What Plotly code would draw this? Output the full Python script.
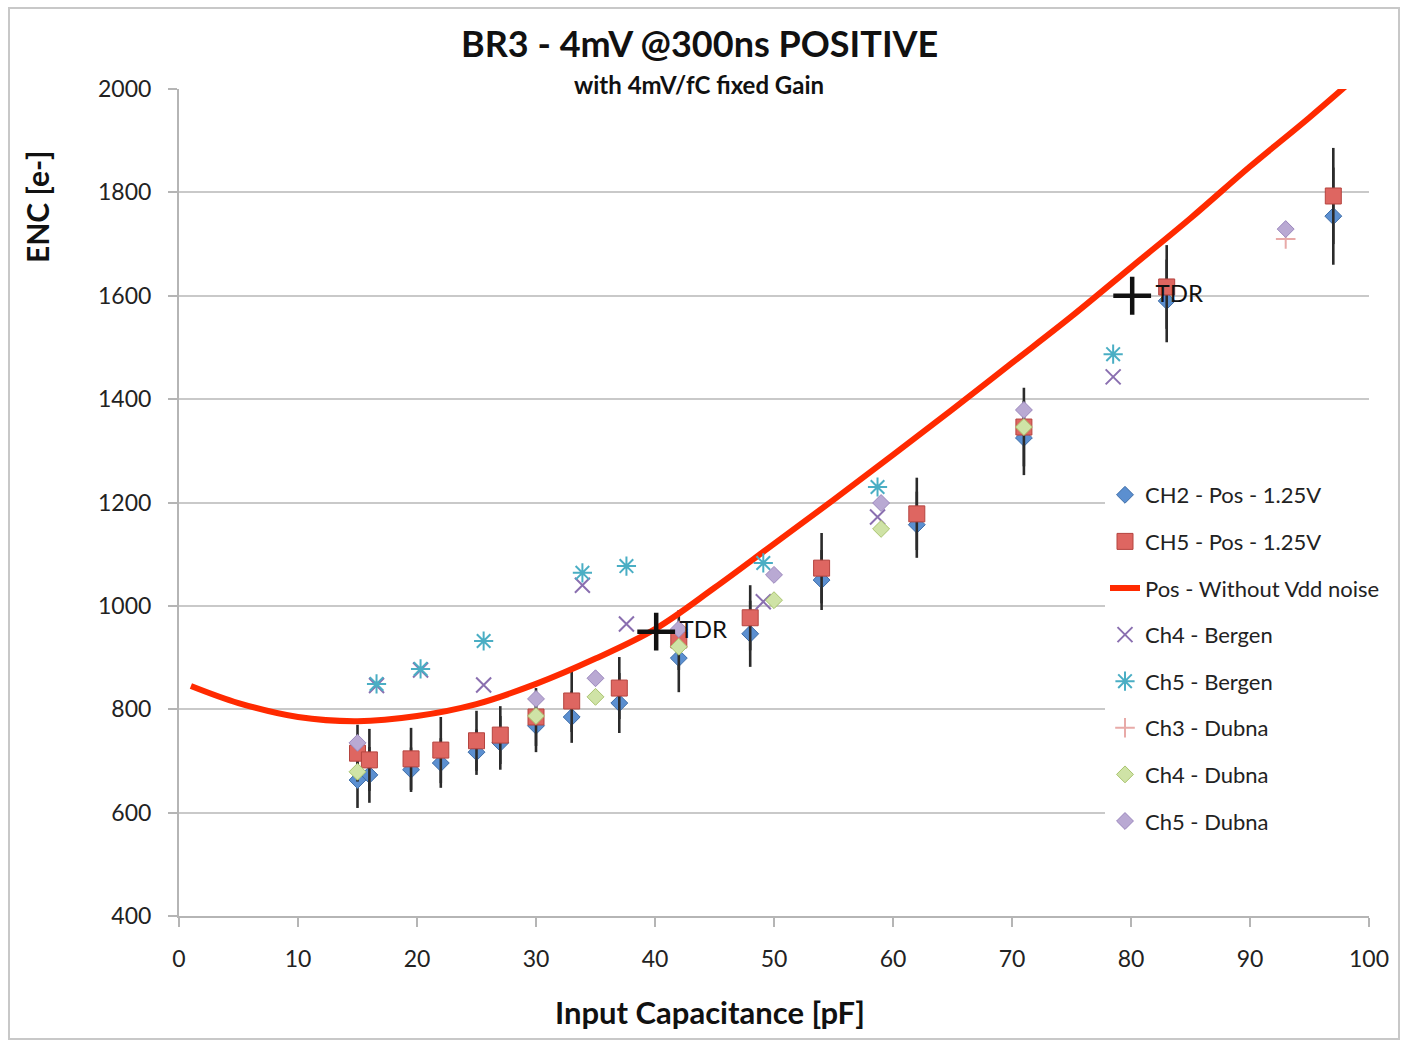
import plotly.graph_objects as go

# --- data -----------------------------------------------------------------
cap_pos = [15, 16, 19.5, 22, 25, 27, 30, 33, 37, 42, 48, 54, 62, 71, 83, 97]
enc_ch2 = [663, 673, 683, 696, 717, 735, 768, 785, 812, 899, 946, 1050, 1157, 1325, 1590, 1754]
err_ch2 = [54, 54, 43, 48, 44, 52, 51, 50, 58, 66, 64, 58, 64, 72, 80, 94]
enc_ch5 = [715, 702, 704, 721, 739, 750, 785, 816, 841, 934, 977, 1073, 1178, 1346, 1617, 1793]
err_ch5 = [55, 60, 60, 64, 58, 56, 56, 60, 60, 58, 63, 68, 70, 76, 81, 93]

cap_model = [1, 5, 10, 15, 20, 25, 30, 35, 40, 45, 50, 55, 60, 65, 70, 75, 80, 85, 90, 95, 100]
enc_model = [845, 812, 785, 777, 787, 810, 849, 898, 955, 1035, 1120, 1205, 1292, 1380, 1470, 1560,
             1655, 1750, 1850, 1945, 2045]

cap_bergen = [16.6, 20.3, 25.6, 33.9, 37.6, 49.1, 58.7, 78.5]
enc_ch4_bergen = [846, 876, 847, 1040, 965, 1008, 1172, 1443]
enc_ch5_bergen = [849, 878, 932, 1064, 1077, 1083, 1230, 1487]

cap_ch3_dubna = [93]
enc_ch3_dubna = [1710]

cap_dubna = [15, 30, 35, 42, 50, 59, 71, 93]
enc_ch4_dubna = [679, 787, 824, 921, 1011, 1149, 1346]
enc_ch5_dubna = [735, 820, 860, 955, 1060, 1199, 1379, 1729]

cap_tdr = [40.1, 80.1]
enc_tdr = [950, 1600]
tdr_labels = [" TDR", " TDR"]

FONT = "Lato"
GRID = "#c9c9c9"

# plot-area geometry in pixels, used to place the titles in paper units
PL, PR, PT, PB = 179, 1369, 89, 916
PW, PH = PR - PL, PB - PT


def px_x(p):
    return (p - PL) / PW


def px_y(p):
    return (PB - p) / PH


fig = go.Figure()

err_style = dict(type="data", symmetric=True, color="#2b2b2b", thickness=2.6, width=0)

fig.add_trace(go.Scatter(
    x=cap_pos, y=enc_ch2, mode="markers", name="CH2 - Pos - 1.25V", legendgroup="a",
    marker=dict(symbol="diamond", size=13, color="#5b8fd0", line=dict(color="#3f6ea8", width=1)),
    error_y=dict(array=err_ch2, **err_style),
))
fig.add_trace(go.Scatter(
    x=cap_pos, y=enc_ch5, mode="markers", name="CH5 - Pos - 1.25V", legendgroup="b",
    marker=dict(symbol="square", size=16, color="#de6661", line=dict(color="#b5443f", width=1)),
    error_y=dict(array=err_ch5, **err_style),
))
fig.add_trace(go.Scatter(
    x=cap_model, y=enc_model, mode="lines", name="Pos - Without Vdd noise", legendgroup="c",
    line=dict(color="#ff2a00", width=6, shape="spline", smoothing=1.0),
))
fig.add_trace(go.Scatter(
    x=cap_bergen, y=enc_ch4_bergen, mode="markers", name="Ch4 - Bergen", legendgroup="d",
    marker=dict(symbol="x-thin-open", size=15, color="#8a6fb0", line=dict(color="#8a6fb0", width=2)),
))
fig.add_trace(go.Scatter(
    x=cap_bergen, y=enc_ch5_bergen, mode="markers", name="Ch5 - Bergen", legendgroup="e",
    marker=dict(symbol="asterisk-open", size=16, color="#4aaec4", line=dict(color="#4aaec4", width=2)),
))
fig.add_trace(go.Scatter(
    x=cap_ch3_dubna, y=enc_ch3_dubna, mode="markers", name="Ch3 - Dubna", legendgroup="f",
    marker=dict(symbol="cross-thin-open", size=14, color="#e8aaa8", line=dict(color="#e8aaa8", width=2)),
))
fig.add_trace(go.Scatter(
    x=cap_dubna[:len(enc_ch4_dubna)], y=enc_ch4_dubna, mode="markers", name="Ch4 - Dubna", legendgroup="g",
    marker=dict(symbol="diamond", size=13, color="#cfe3a6", line=dict(color="#a9c46e", width=1)),
))
fig.add_trace(go.Scatter(
    x=cap_dubna, y=enc_ch5_dubna, mode="markers", name="Ch5 - Dubna", legendgroup="h",
    marker=dict(symbol="diamond", size=13, color="#b9a9d3", line=dict(color="#9b87bd", width=1)),
))
fig.add_trace(go.Scatter(
    x=cap_tdr, y=enc_tdr, mode="markers+text", text=tdr_labels, textposition="middle right",
    textfont=dict(family=FONT, size=24, color="#111"), showlegend=False,
    marker=dict(symbol="cross-thin-open", size=27, color="#111", line=dict(color="#111", width=4.5)),
))

fig.update_layout(
    width=1402, height=1044,
    paper_bgcolor="white", plot_bgcolor="white",
    margin=dict(l=PL, r=1402 - PR, t=PT, b=1044 - PB),
    font=dict(family=FONT, size=20, color="#222"),
    showlegend=True,
    legend=dict(
        x=px_x(1105), y=px_y(474), xanchor="left", yanchor="top",
        bgcolor="white", borderwidth=0,
        font=dict(family=FONT, size=22, color="#222"),
        tracegroupgap=15, itemwidth=30,
    ),
    xaxis=dict(
        range=[0, 100], tickmode="linear", tick0=0, dtick=10,
        showgrid=False, zeroline=False,
        showline=True, linecolor="#b5b5b5", linewidth=2,
        ticks="outside", ticklen=9, tickcolor="#b5b5b5", tickwidth=2,
        ticklabelstandoff=12,
        tickfont=dict(family=FONT, size=23, color="#222"),
    ),
    yaxis=dict(
        range=[400, 2000], tickmode="linear", tick0=400, dtick=200,
        showgrid=True, gridcolor=GRID, gridwidth=2, zeroline=False,
        showline=True, linecolor="#b5b5b5", linewidth=2,
        ticks="outside", ticklen=9, tickcolor="#b5b5b5", tickwidth=2,
        ticklabelstandoff=12,
        tickfont=dict(family=FONT, size=23, color="#222"),
    ),
    shapes=[
        # white band behind the title block
        dict(type="rect", xref="paper", yref="paper", layer="above",
             x0=px_x(452), x1=px_x(948), y0=px_y(101), y1=px_y(75),
             fillcolor="white", line=dict(width=0)),
        # outer chart frame
        dict(type="rect", xref="paper", yref="paper", layer="below",
             x0=px_x(9), x1=px_x(1399), y0=px_y(1039), y1=px_y(8),
             fillcolor="rgba(0,0,0,0)", line=dict(color="#c8c8c8", width=2)),
    ],
    annotations=[
        dict(text="<b>BR3 - 4mV @300ns POSITIVE</b>", xref="paper", yref="paper",
             x=px_x(699), y=px_y(43), xanchor="center", yanchor="middle",
             showarrow=False, font=dict(family=FONT, size=36, color="#111")),
        dict(text="<b>with 4mV/fC fixed Gain</b>", xref="paper", yref="paper",
             x=px_x(699), y=px_y(84), xanchor="center", yanchor="middle",
             showarrow=False, font=dict(family=FONT, size=24, color="#111")),
        dict(text="<b>Input Capacitance [pF]</b>", xref="paper", yref="paper",
             x=px_x(710), y=px_y(1012), xanchor="center", yanchor="middle",
             showarrow=False, font=dict(family=FONT, size=31, color="#111")),
        dict(text="<b>ENC [e-]</b>", xref="paper", yref="paper", textangle=-90,
             x=px_x(37), y=px_y(207), xanchor="center", yanchor="middle",
             showarrow=False, font=dict(family=FONT, size=30, color="#111")),
    ],
)

fig.write_html("out.html")
